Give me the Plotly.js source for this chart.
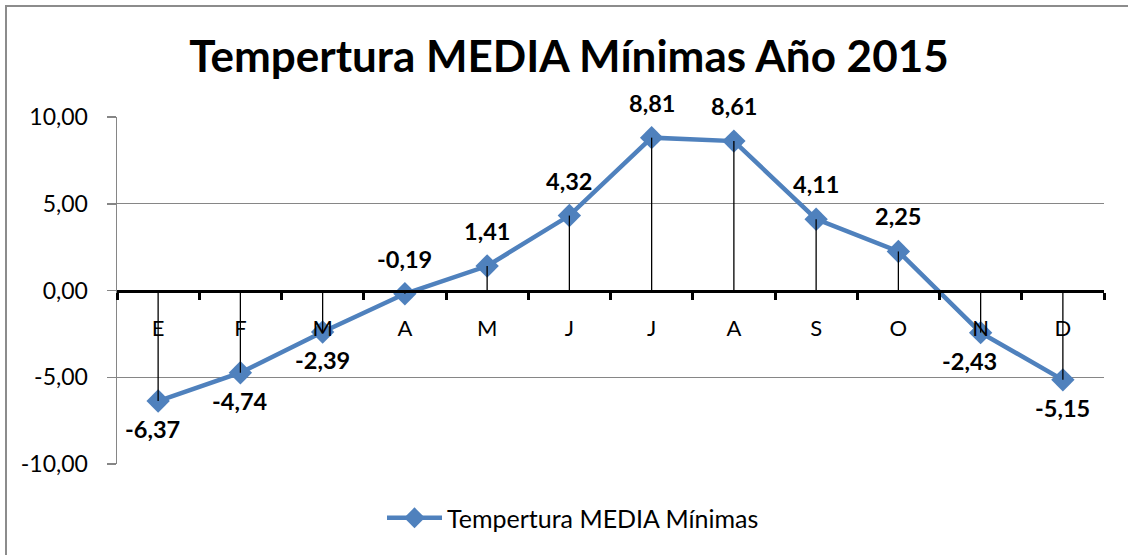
<!DOCTYPE html>
<html>
<head>
<meta charset="utf-8">
<script src="https://cdn.plot.ly/plotly-3.0.1.min.js"></script>
<style>
  html, body { margin: 0; padding: 0; background: #fff; overflow: hidden; }
  #wrap { position: relative; width: 1128px; height: 555px; overflow: hidden; }
  #chart { width: 1128px; height: 555px; }
  #frame { position: absolute; left: 5px; top: 5px; width: 1123px; height: 550px;
           border-left: 2px solid #8c8c8c; border-top: 2px solid #8c8c8c; pointer-events: none; box-sizing: border-box; }
</style>
</head>
<body>
<div id="wrap">
  <div id="chart"></div>
  <div id="frame"></div>
</div>
<script>
// ---- data ----
const months = ["E", "F", "M", "A", "M", "J", "J", "A", "S", "O", "N", "D"];
const tempMin = [-6.37, -4.74, -2.39, -0.19, 1.41, 4.32, 8.81, 8.61, 4.11, 2.25, -2.43, -5.15];
const valueLabels = ["-6,37", "-4,74", "-2,39", "-0,19", "1,41", "4,32", "8,81", "8,61", "4,11", "2,25", "-2,43", "-5,15"];
const yTickVals = [-10, -5, 0, 5, 10];
const yTickText = ["-10,00", "-5,00", "0,00", "5,00", "10,00"];
const seriesName = "Tempertura MEDIA Mínimas";
const chartTitle = "Tempertura MEDIA Mínimas Año 2015";

// ---- label placement (style) ----
const labelAbove = [false, false, false, true, true, true, true, true, true, true, false, false];
const labelXShift = [-6, 0, 0, 0, 0, 0, 0, 0, 0, 0, -11, 0];

const idx = months.map((_, i) => i);
const FONT = "Lato, 'Open Sans', sans-serif";
const BLUE = "#4F81BD";

const dropX = [], dropY = [];
idx.forEach(i => { dropX.push(i, i, null); dropY.push(0, tempMin[i], null); });

const traces = [
  {
    x: idx, y: tempMin, name: seriesName, type: "scatter", mode: "lines+markers",
    line: { color: BLUE, width: 4.5 },
    marker: { symbol: "diamond", size: 18, color: BLUE },
    hoverinfo: "skip"
  },
  {
    x: dropX, y: dropY, type: "scatter", mode: "lines", showlegend: false,
    line: { color: "#000", width: 1.3 }, hoverinfo: "skip"
  }
];

const annotations = idx.map(i => ({
  x: i, y: tempMin[i], xref: "x", yref: "y",
  text: "<b>" + valueLabels[i] + "</b>", showarrow: false,
  xanchor: "center", yanchor: "middle",
  yshift: labelAbove[i] ? 35 : -28, xshift: labelXShift[i],
  font: { family: FONT, size: 23.5, color: "#000" }
}));

const layout = {
  width: 1128, height: 555,
  margin: { l: 117, r: 24, t: 117, b: 91 },
  paper_bgcolor: "#fff", plot_bgcolor: "#fff",
  showlegend: true,
  title: {
    text: "<b>" + chartTitle + "</b>",
    font: { family: FONT, size: 44, color: "#000" },
    x: 569 / 1128, xanchor: "center", xref: "container",
    y: 1 - 57 / 555, yanchor: "middle", yref: "container"
  },
  xaxis: {
    range: [-0.5, 11.5], anchor: "free", position: 0.5,
    tickvals: idx, ticktext: months,
    showline: true, linecolor: "#000", linewidth: 3,
    ticks: "", showgrid: false, zeroline: false,
    minor: { tick0: 0.5, dtick: 1, ticks: "outside", ticklen: 7, tickwidth: 3, tickcolor: "#000", showgrid: false },
    ticklabelstandoff: 17,
    tickfont: { family: FONT, size: 22, color: "#000" },
    fixedrange: true
  },
  yaxis: {
    range: [-10, 10], tickvals: yTickVals, ticktext: yTickText,
    showline: true, linecolor: "#868686", linewidth: 1.5,
    ticks: "outside", ticklen: 9, tickcolor: "#868686", tickwidth: 1.5,
    showgrid: true, gridcolor: "#868686", gridwidth: 1.2,
    zeroline: false, ticklabelstandoff: 14,
    tickfont: { family: FONT, size: 23, color: "#000" },
    fixedrange: true
  },
  legend: {
    orientation: "h", x: (573 - 117) / 987, xanchor: "center", y: -(518 - 464) / 347, yanchor: "middle",
    itemwidth: 55,
    font: { family: FONT, size: 25, color: "#000" }
  },
  annotations: annotations
};

Plotly.newPlot("chart", traces, layout, { displayModeBar: false, staticPlot: true });
</script>
</body>
</html>
